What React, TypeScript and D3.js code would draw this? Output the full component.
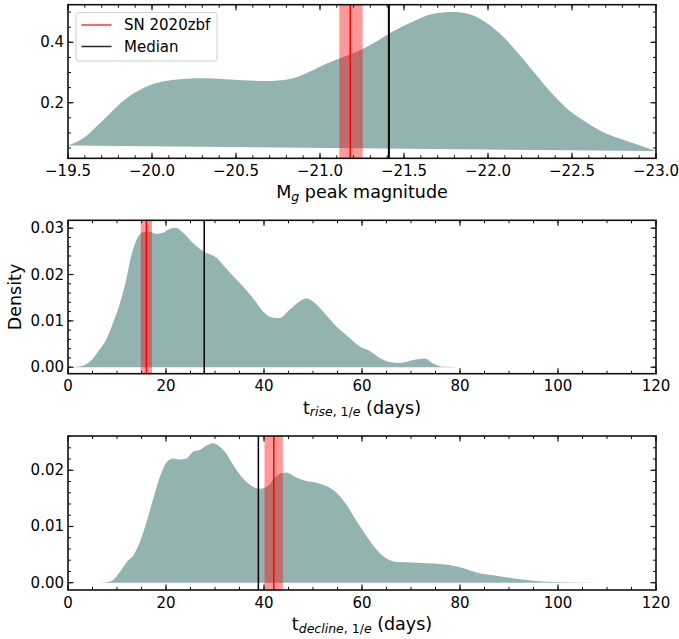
import React from "react";
import * as d3 from "d3";

// ---------- data ----------
const magX = [-19.5, -19.59, -19.69, -19.79, -19.89, -19.99, -20.09, -20.21, -20.31, -20.44, -20.54, -20.7, -20.84, -20.94, -21.04, -21.12, -21.23, -21.35, -21.43, -21.55, -21.67, -21.79, -21.885, -21.98, -22.08, -22.18, -22.28, -22.38, -22.48, -22.58, -22.68, -22.78, -22.88, -23.0];
const magY = [0.058, 0.082, 0.132, 0.187, 0.231, 0.259, 0.273, 0.2795, 0.281, 0.2775, 0.274, 0.272, 0.281, 0.303, 0.33, 0.347, 0.372, 0.408, 0.435, 0.468, 0.494, 0.5, 0.494, 0.468, 0.424, 0.364, 0.297, 0.231, 0.176, 0.137, 0.104, 0.082, 0.063, 0.04];

const riseX = [1, 3, 4.4, 6.45, 7.8, 9.2, 10.5, 11.9, 12.9, 14.0, 15.0, 16.3, 18.05, 19.4, 20.8, 22.0, 23.5, 25.5, 27.6, 30.3, 32.2, 35.0, 37.7, 39.75, 41.45, 43.15, 45.2, 47.25, 48.6, 50.0, 52.0, 54.8, 57.5, 59.5, 61.6, 63.6, 65.7, 67.7, 69.8, 72.8, 74.55, 76.6, 80];
const riseY = [0, 0.0003, 0.0011, 0.0038, 0.006, 0.0096, 0.0135, 0.0189, 0.024, 0.0275, 0.029, 0.0293, 0.0288, 0.029, 0.0299, 0.0301, 0.029, 0.0268, 0.025, 0.0236, 0.0214, 0.0182, 0.015, 0.0121, 0.0108, 0.0106, 0.0124, 0.0142, 0.0148, 0.0142, 0.0121, 0.0088, 0.0063, 0.0045, 0.0035, 0.002, 0.0011, 0.0009, 0.0014, 0.0019, 0.0008, 0.0001, 0];

const decX = [5.1, 7.8, 9.2, 10.5, 12.2, 13.3, 14.6, 16.0, 17.35, 18.7, 20.1, 21.45, 22.8, 24.2, 25.5, 26.9, 28.3, 29.6, 31.0, 32.2, 33.6, 35.0, 37.0, 39.05, 40.8, 42.5, 44.5, 46.6, 48.6, 50.7, 52.7, 54.8, 56.8, 58.85, 60.9, 62.95, 65.0, 67.0, 70.45, 74.5, 78.1, 81.1, 83.4, 87.8, 92.2, 96.6, 101, 115];
const decY = [0, 0.0001, 0.0005, 0.0018, 0.0039, 0.0048, 0.0071, 0.0107, 0.0148, 0.0187, 0.0214, 0.0221, 0.0219, 0.0221, 0.0233, 0.0236, 0.0244, 0.0248, 0.0242, 0.0231, 0.0211, 0.0193, 0.0175, 0.0167, 0.0172, 0.019, 0.0196, 0.0187, 0.0181, 0.0178, 0.0172, 0.016, 0.0139, 0.011, 0.0083, 0.0059, 0.0043, 0.0037, 0.0036, 0.0034, 0.0031, 0.0025, 0.0018, 0.0012, 0.0006, 0.0002, 0.0001, 0];

// SN 2020zbf value, its uncertainty band, and the sample median per panel
const snValues = [-21.18, 16.0, 42.0];
const snBands = [[-21.115, -21.254], [14.85, 17.15], [40.1, 43.85]];
const medians = [-21.41, 27.8, 38.85];

const magTicks = [-19.5, -20.0, -20.5, -21.0, -21.5, -22.0, -22.5, -23.0];
const dayTicks = [0, 20, 40, 60, 80, 100, 120];
const magYTicks = [0.2, 0.4];
const riseYTicks = [0.0, 0.01, 0.02, 0.03];
const decYTicks = [0.0, 0.01, 0.02];

const legendLabels = ["SN 2020zbf", "Median"];

// ---------- layout ----------
const LEFT = 68;
const RIGHT = 656;
const FONT = "DejaVu Sans, sans-serif";
const FILL = "#93b3b0";

type PanelProps = {
  xs: number[];
  ys: number[];
  xDomain: [number, number];
  yDomain: [number, number];
  top: number;
  bottom: number;
  xTicks: number[];
  xMinorStep: number;
  xFmt: (v: number) => string;
  yTicks: number[];
  yMinorStep: number;
  yFmt: (v: number) => string;
  sn: number;
  band: number[];
  median: number;
  medianWidth: number;
  label: React.ReactNode;
  ylabel?: string;
  legend?: boolean;
};

function minorRange(domain: [number, number], step: number) {
  const lo = Math.min(domain[0], domain[1]);
  const hi = Math.max(domain[0], domain[1]);
  const out: number[] = [];
  const start = Math.ceil(lo / step - 1e-9);
  for (let k = start; k * step <= hi + 1e-9; k++) out.push(+(k * step).toFixed(6));
  return out;
}

function Panel(p: PanelProps) {
  const x = d3.scaleLinear().domain(p.xDomain).range([LEFT, RIGHT]);
  const y = d3.scaleLinear().domain(p.yDomain).range([p.bottom, p.top]);
  const pts: [number, number][] = p.xs.map((v, i) => [v, p.ys[i]]);
  const line = d3
    .line<[number, number]>()
    .x((d) => x(d[0]))
    .y((d) => y(d[1]))
    .curve(d3.curveMonotoneX);
  const path = (line(pts) || "") + "Z";
  const clipId = `clip${Math.round(p.top)}`;
  const xMinor = minorRange(p.xDomain, p.xMinorStep);
  const yMinor = minorRange(p.yDomain, p.yMinorStep);
  const tickCol = "#111";
  const majL = 5.5;
  const minL = 3;
  return (
    <g>
      <defs>
        <clipPath id={clipId}>
          <rect x={LEFT} y={p.top} width={RIGHT - LEFT} height={p.bottom - p.top} />
        </clipPath>
      </defs>
      <g clipPath={`url(#${clipId})`}>
        <path d={path} fill={FILL} stroke="none" />
        <rect
          x={Math.min(x(p.band[0]), x(p.band[1]))}
          y={p.top}
          width={Math.abs(x(p.band[1]) - x(p.band[0]))}
          height={p.bottom - p.top}
          fill="red"
          fillOpacity={0.4}
        />
        <line x1={x(p.sn)} x2={x(p.sn)} y1={p.top} y2={p.bottom} stroke="red" strokeWidth={1.5} />
        <line x1={x(p.median)} x2={x(p.median)} y1={p.top} y2={p.bottom} stroke="black" strokeWidth={p.medianWidth} />
      </g>
      {/* minor ticks */}
      {xMinor.map((v) => (
        <g key={"xm" + v}>
          <line x1={x(v)} x2={x(v)} y1={p.bottom} y2={p.bottom - minL} stroke={tickCol} strokeWidth={1} />
          <line x1={x(v)} x2={x(v)} y1={p.top} y2={p.top + minL} stroke={tickCol} strokeWidth={1} />
        </g>
      ))}
      {yMinor.map((v) => (
        <g key={"ym" + v}>
          <line x1={LEFT} x2={LEFT + minL} y1={y(v)} y2={y(v)} stroke={tickCol} strokeWidth={1} />
          <line x1={RIGHT} x2={RIGHT - minL} y1={y(v)} y2={y(v)} stroke={tickCol} strokeWidth={1} />
        </g>
      ))}
      {/* major ticks */}
      {p.xTicks.map((v) => (
        <g key={"xt" + v}>
          <line x1={x(v)} x2={x(v)} y1={p.bottom} y2={p.bottom - majL} stroke={tickCol} strokeWidth={1.2} />
          <line x1={x(v)} x2={x(v)} y1={p.top} y2={p.top + majL} stroke={tickCol} strokeWidth={1.2} />
          <text x={x(v)} y={p.bottom + 12.5} textAnchor="middle" dominantBaseline="central" fontSize={15} fontFamily={FONT} fill="#000">
            {p.xFmt(v)}
          </text>
        </g>
      ))}
      {p.yTicks.map((v) => (
        <g key={"yt" + v}>
          <line x1={LEFT} x2={LEFT + majL} y1={y(v)} y2={y(v)} stroke={tickCol} strokeWidth={1.2} />
          <line x1={RIGHT} x2={RIGHT - majL} y1={y(v)} y2={y(v)} stroke={tickCol} strokeWidth={1.2} />
          <text x={LEFT - 4} y={y(v)} textAnchor="end" dominantBaseline="central" fontSize={15} fontFamily={FONT} fill="#000">
            {p.yFmt(v)}
          </text>
        </g>
      ))}
      <rect x={LEFT} y={p.top} width={RIGHT - LEFT} height={p.bottom - p.top} fill="none" stroke="#111" strokeWidth={1.6} />
      <text x={(LEFT + RIGHT) / 2} y={p.bottom + 34} textAnchor="middle" dominantBaseline="central" fontSize={17.5} fontFamily={FONT} fill="#000">
        {p.label}
      </text>
      {p.ylabel && (
        <text
          transform={`translate(15,${(p.top + p.bottom) / 2}) rotate(-90)`}
          textAnchor="middle"
          dominantBaseline="central"
          fontSize={17.5}
          fontFamily={FONT}
          fill="#000"
        >
          {p.ylabel}
        </text>
      )}
      {p.legend && (
        <g>
          <rect x={76} y={12.5} width={141} height={48.5} rx={3} fill="white" fillOpacity={0.8} stroke="#d0d0d0" strokeWidth={1} />
          <line x1={81.5} x2={111.5} y1={25} y2={25} stroke="red" strokeOpacity={0.8} strokeWidth={1.5} />
          <text x={124} y={25} dominantBaseline="central" fontSize={15} fontFamily={FONT} fill="#000">
            {legendLabels[0]}
          </text>
          <line x1={81.5} x2={111.5} y1={46.5} y2={46.5} stroke="black" strokeOpacity={0.85} strokeWidth={1.5} />
          <text x={124} y={46.5} dominantBaseline="central" fontSize={15} fontFamily={FONT} fill="#000">
            {legendLabels[1]}
          </text>
        </g>
      )}
    </g>
  );
}

const minus = (s: string) => s.replace("-", "\u2212");

export default function App() {
  return (
    <svg width={679} height={639} style={{ position: "absolute", left: 0, top: 0, background: "white" }}>
      <Panel
        xs={magX}
        ys={magY}
        xDomain={[-19.5, -23.0]}
        yDomain={[0.016, 0.5245]}
        top={4.7}
        bottom={158.3}
        xTicks={magTicks}
        xMinorStep={0.1}
        xFmt={(v) => minus(v.toFixed(1))}
        yTicks={magYTicks}
        yMinorStep={0.05}
        yFmt={(v) => v.toFixed(1)}
        sn={snValues[0]}
        band={snBands[0]}
        median={medians[0]}
        medianWidth={2}
        legend
        label={
          <>
            <tspan>M</tspan>
            <tspan fontSize={12.5} fontStyle="italic" dy={3.5}>g</tspan>
            <tspan dy={-3.5}> peak magnitude</tspan>
          </>
        }
      />
      <Panel
        xs={riseX}
        ys={riseY}
        xDomain={[0, 120]}
        yDomain={[-0.0014, 0.0317]}
        top={220.3}
        bottom={373.7}
        xTicks={dayTicks}
        xMinorStep={5}
        xFmt={(v) => String(v)}
        yTicks={riseYTicks}
        yMinorStep={0.002}
        yFmt={(v) => v.toFixed(2)}
        sn={snValues[1]}
        band={snBands[1]}
        median={medians[1]}
        medianWidth={1.5}
        ylabel="Density"
        label={
          <>
            <tspan>t</tspan>
            <tspan fontSize={12.5} dy={3.5}>
              <tspan fontStyle="italic">rise</tspan>, 1/<tspan fontStyle="italic">e</tspan>
            </tspan>
            <tspan dy={-3.5}> (days)</tspan>
          </>
        }
      />
      <Panel
        xs={decX}
        ys={decY}
        xDomain={[0, 120]}
        yDomain={[-0.0013, 0.0261]}
        top={436}
        bottom={590}
        xTicks={dayTicks}
        xMinorStep={5}
        xFmt={(v) => String(v)}
        yTicks={decYTicks}
        yMinorStep={0.002}
        yFmt={(v) => v.toFixed(2)}
        sn={snValues[2]}
        band={snBands[2]}
        median={medians[2]}
        medianWidth={1.5}
        label={
          <>
            <tspan>t</tspan>
            <tspan fontSize={12.5} dy={3.5}>
              <tspan fontStyle="italic">decline</tspan>, 1/<tspan fontStyle="italic">e</tspan>
            </tspan>
            <tspan dy={-3.5}> (days)</tspan>
          </>
        }
      />
    </svg>
  );
}
